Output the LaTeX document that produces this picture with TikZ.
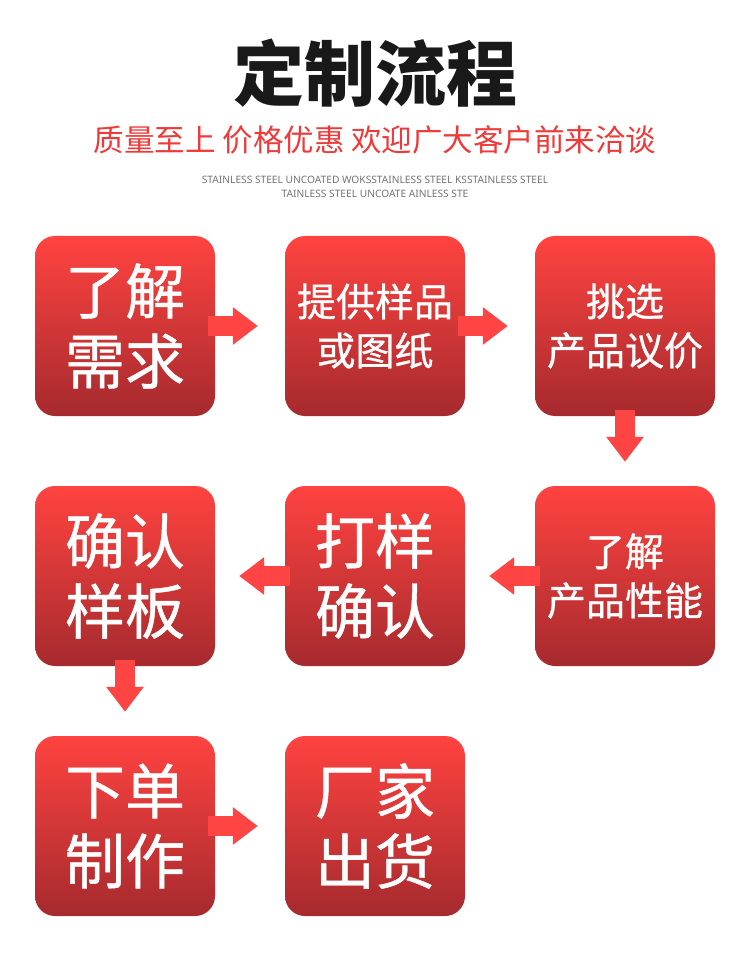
\documentclass[tikz,border=0pt]{standalone}
\usepackage{fontspec}
\newfontfamily\cjk{Noto Sans CJK SC}
\newfontfamily\cjkm[FakeBold=0.7]{Noto Sans CJK SC}
\newfontfamily\latn{Noto Sans}
\usetikzlibrary{arrows.meta}
\definecolor{boxtop}{HTML}{FF4340}
\definecolor{boxbot}{HTML}{A62A2E}
\definecolor{arrred}{HTML}{FF4444}
\definecolor{subred}{HTML}{F03A3A}
\begin{document}
\begin{tikzpicture}[x=1pt,y=-1pt,
  stepbox/.style={rounded corners=20pt, minimum width=180pt, minimum height=180pt, inner sep=0pt,
    top color=boxtop, bottom color=boxbot, draw=none},
  bigtxt/.style={text=white, align=center, font=\cjkm\fontsize{60}{70}\selectfont},
  midtxt/.style={text=white, align=center, font=\cjkm\fontsize{39}{49}\selectfont},
  flowarr/.style={draw=arrred, line width=20pt, -{Triangle[length=25pt,width=36pt]}, arrred}]
\useasboundingbox (0,0) rectangle (750,965);
\fill[white] (0,0) rectangle (750,965);
\node[font=\cjk\bfseries\fontsize{71}{80}\selectfont, text=black!90] (title) at (375,73) {定制流程};
\node[font=\cjk\fontsize{30.5}{34}\selectfont, text=subred] (sub) at (375,140) {质量至上 价格优惠 欢迎广大客户前来洽谈};
\node[font=\latn\fontsize{10.2}{14}\selectfont, text=black!55, align=center] (eng) at (375,187)
  {STAINLESS STEEL UNCOATED WOKSSTAINLESS STEEL KSSTAINLESS STEEL\\TAINLESS STEEL UNCOATE AINLESS STE};
% boxes
\node[stepbox] (b1) at (125,326) {};
\node[stepbox] (b2) at (375,326) {};
\node[stepbox] (b3) at (625,326) {};
\node[stepbox] (b4) at (125,576) {};
\node[stepbox] (b5) at (375,576) {};
\node[stepbox] (b6) at (625,576) {};
\node[stepbox] (b7) at (125,826) {};
\node[stepbox] (b8) at (375,826) {};
% texts
\node[bigtxt] (t1) at (b1) {了解\\需求};
\node[midtxt] (t2) at (b2) {提供样品\\或图纸};
\node[midtxt] (t3) at (b3) {挑选\\产品议价};
\node[bigtxt] (t4) at (b4) {确认\\样板};
\node[bigtxt] (t5) at (b5) {打样\\确认};
\node[midtxt] (t6) at (b6) {了解\\产品性能};
\node[bigtxt] (t7) at (b7) {下单\\制作};
\node[bigtxt] (t8) at (b8) {厂家\\出货};
% arrows
\draw[flowarr] ([xshift=-7pt]b1.east) -- ([xshift=-27pt]b2.west);
\draw[flowarr] ([xshift=-7pt]b2.east) -- ([xshift=-27pt]b3.west);
\draw[flowarr] ([yshift=6pt]b3.south) -- ([yshift=24pt]b6.north);
\draw[flowarr] ([xshift=5pt]b6.west) -- ([xshift=24pt]b5.east);
\draw[flowarr] ([xshift=5pt]b5.west) -- ([xshift=24pt]b4.east);
\draw[flowarr] ([yshift=6pt]b4.south) -- ([yshift=24pt]b7.north);
\draw[flowarr] ([xshift=-7pt]b7.east) -- ([xshift=-27pt]b8.west);
\end{tikzpicture}
\end{document}
